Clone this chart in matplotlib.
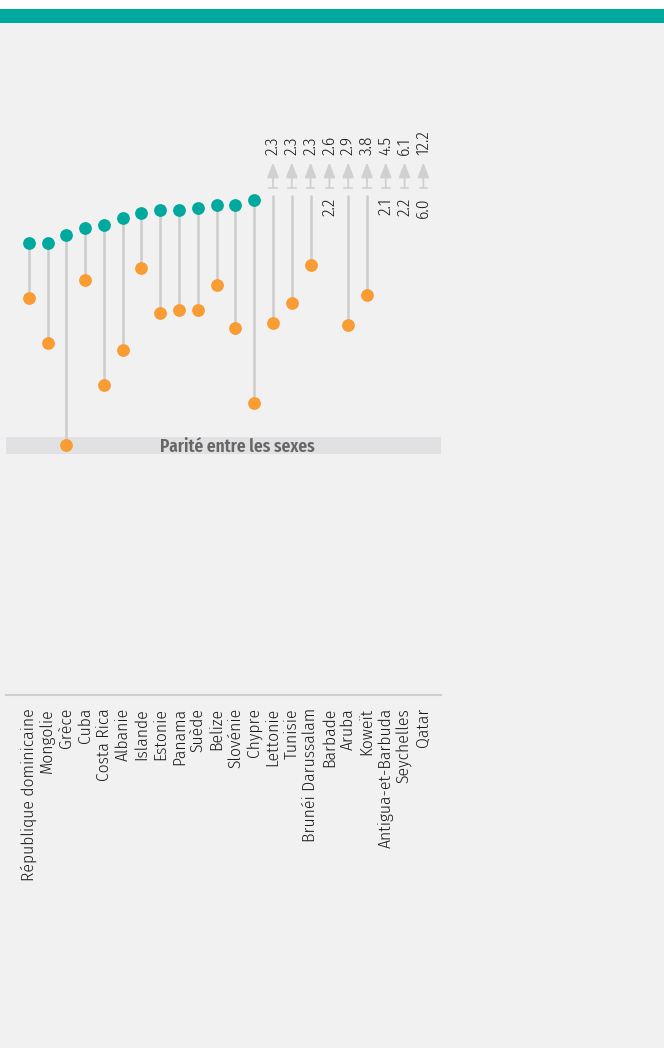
import numpy as np
import matplotlib
matplotlib.use("Agg")
import matplotlib.pyplot as plt
from matplotlib.patches import Rectangle

countries = ["République dominicaine", "Mongolie", "Grèce", "Cuba", "Costa Rica",
             "Albanie", "Islande", "Estonie", "Panama", "Suède", "Belize", "Slovénie",
             "Chypre", "Lettonie", "Tunisie", "Brunéi Darussalam", "Barbade", "Aruba",
             "Koweït", "Antigua-et-Barbuda", "Seychelles", "Qatar"]

# teal (upper) and orange (lower) values; above 2.0 = off the chart, shown as text
teal = [1.81, 1.81, 1.84, 1.87, 1.88, 1.91, 1.93, 1.94, 1.94, 1.95, 1.96, 1.96,
        1.98, 2.3, 2.3, 2.3, 2.6, 2.9, 3.8, 4.5, 6.1, 12.2]
orange = [1.59, 1.41, 1.00, 1.66, 1.24, 1.38, 1.71, 1.53, 1.54, 1.54, 1.64, 1.47,
          1.17, 1.49, 1.57, 1.72, 2.2, 1.48, 1.60, 2.1, 2.2, 6.0]

ymax_plot = 2.0
parity_lo, parity_hi = 0.965, 1.033

TEAL = "#00a99d"
ORANGE = "#f89c33"
GREY = "#cccccc"
BG = "#f1f1f1"
FONT = ["Fira Sans Condensed", "DejaVu Sans"]
FONT_XC = ["Fira Sans Extra Condensed", "Fira Sans Condensed", "DejaVu Sans"]

W, H = 664, 1048
fig = plt.figure(figsize=(W / 100, H / 100), dpi=100, facecolor=BG)

# header strip
fig.patches.append(Rectangle((0, 1 - 9 / H), 1, 9 / H, transform=fig.transFigure,
                             facecolor="white", edgecolor="none"))
fig.patches.append(Rectangle((0, 1 - 23 / H), 1, 14 / H, transform=fig.transFigure,
                             facecolor=TEAL, edgecolor="none"))

# axes: y=0 at px 695, 250 px per unit
y0_px, ppu = 695, 250
ytop = 2.3
ax = fig.add_axes([6 / W, (H - y0_px) / H, 435 / W, ytop * ppu / H])
ax.set_facecolor("none")
x = np.arange(len(countries))
ax.set_xlim(-1.21, 21.94)
ax.set_ylim(0, ytop)
for s in ["top", "right", "left"]:
    ax.spines[s].set_visible(False)
ax.spines["bottom"].set_color("#cfcfcf")
ax.spines["bottom"].set_linewidth(1.5)
ax.set_xticks([])
ax.set_yticks([])

ax.axhspan(parity_lo, parity_hi, color="#e1e1e3", zorder=0, lw=0)
ax.text(11.12, 0.993, "Parité entre les sexes", ha="center", va="center",
        fontsize=13.5, fontweight="semibold", color="#666666", zorder=1, family=FONT_XC)

for i in x:
    t, o = teal[i], orange[i]
    top_in = t <= ymax_plot
    bot_in = o <= ymax_plot
    if bot_in:
        ax.plot([i, i], [min(t, ymax_plot), o], color=GREY, lw=1.8, zorder=2,
                solid_capstyle="butt")
        ax.plot(i, o, "o", ms=9.2, color=ORANGE, mec="none", zorder=3)
    if top_in:
        ax.plot(i, t, "o", ms=9.2, color=TEAL, mec="none", zorder=3)
    else:
        ax.annotate("", xy=(i, 2.13), xytext=(i, 2.028),
                    arrowprops=dict(arrowstyle="-|>,head_length=0.9,head_width=0.35",
                                    color="#d0d0d0", lw=1.3, shrinkA=0, shrinkB=0))
        ax.plot([i - 0.2, i + 0.2], [2.028, 2.028], color="#d0d0d0", lw=1.2)
        ax.text(i, 2.16, f"{t:.1f}", rotation=90, ha="center", va="bottom",
                fontsize=12.5, color="#1a1a1a", clip_on=False, family=FONT,
                fontweight=300)
        if not bot_in:
            ax.text(i, 1.99, f"{o:.1f}", rotation=90, ha="center", va="top",
                    fontsize=12.5, color="#1a1a1a", clip_on=False, family=FONT,
                    fontweight=300)

for i, name in zip(x, countries):
    ax.text(i, -0.052, name, rotation=90, ha="center", va="top",
            fontsize=12.6, color="#1a1a1a", clip_on=False, family=FONT,
            fontweight=300)

fig.savefig("out.png", dpi=100, facecolor=BG)
